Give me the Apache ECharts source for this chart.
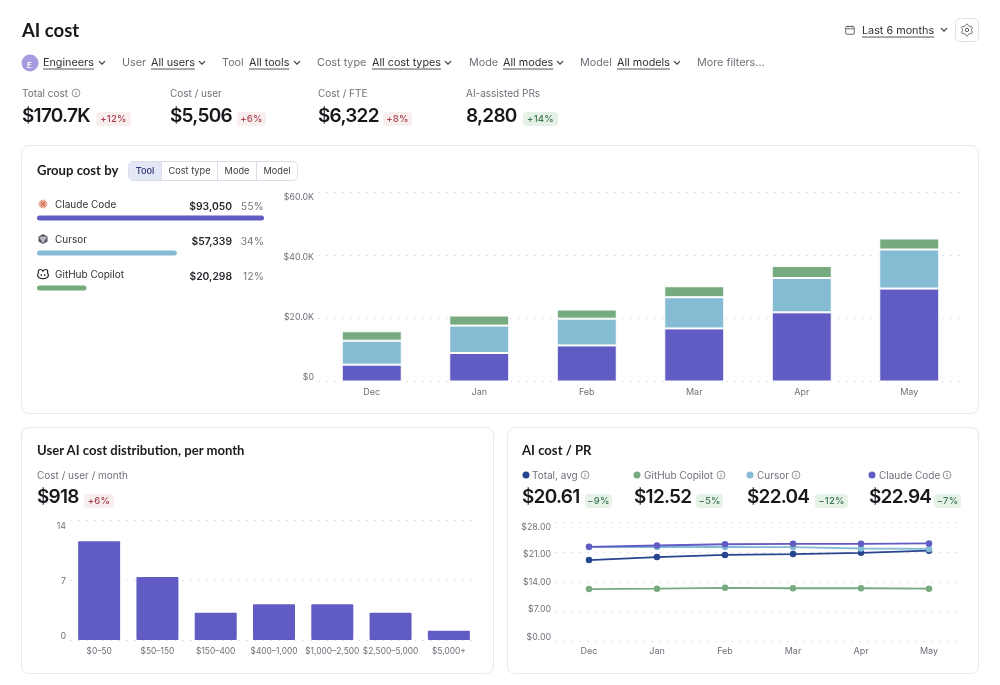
<!DOCTYPE html>
<html><head><meta charset="utf-8">
<script src="https://cdn.jsdelivr.net/npm/echarts@6/dist/echarts.min.js"></script>
<style>
html,body{margin:0;padding:0;background:#fff;width:1000px;height:685px;overflow:hidden;font-family:Inter,sans-serif;color:#1b1b20}
#chart{position:absolute;left:0;top:0;width:1000px;height:685px}
.card{position:absolute;border:1px solid #e9e9ee;border-radius:8px;box-sizing:border-box}
.t{position:absolute;white-space:nowrap;transform:translateY(-50%);line-height:1.2}
.r{transform:translate(-100%,-50%)}
.title{font-family:Lato,sans-serif;font-weight:700;font-size:18.5px;color:#17171c}
.f{font-size:10.8px;color:#6f7079}
.u{font-size:10.8px;color:#2f3036;text-decoration:underline;text-underline-offset:2.5px;text-decoration-color:#55565e}
.k{font-size:10px;color:#6f7079}
.v{font-size:19px;font-weight:600;color:#17171c;letter-spacing:-.75px}
.st{font-family:Lato,sans-serif;font-size:13.1px;font-weight:700;color:#1b1b20}
.b{position:absolute;height:14px;border-radius:4px;font-size:9.5px;font-weight:500;line-height:14px;text-align:center;letter-spacing:.2px;transform:translateY(-50%)}
.bad{background:#f8eeee;color:#a8404c}.good{background:#e6f1e8;color:#3f7a50}
.dot{position:absolute;width:8px;height:8px;border-radius:50%;transform:translate(-50%,-50%)}
svg.i{position:absolute;transform:translate(-50%,-50%);overflow:visible}
.seg{position:absolute;left:128px;top:161px;width:170px;height:20px;border:1px solid #dcdde8;border-radius:5px;box-sizing:border-box;display:flex;font-size:9.2px;color:#3a3b42;overflow:hidden}
.seg div{line-height:18px;text-align:center;border-right:1px solid #dcdde8;box-sizing:border-box}
.seg div:last-child{border:0}
.seg .on{background:#e4e7f6;color:#2c3577;font-weight:500}
</style></head><body>
<div class="card" style="left:21px;top:145px;width:958px;height:269px"></div>
<div class="card" style="left:21px;top:427px;width:473px;height:247px"></div>
<div class="card" style="left:507px;top:427px;width:472px;height:247px"></div>
<div id="chart"></div>
<div id="ov"></div>
<script>
// ---------- chart data ----------
const months = ['Dec','Jan','Feb','Mar','Apr','May'];
const claudeCost  = [5350, 9050, 11450, 16850, 21950, 29500];
const cursorCost  = [7600, 8700, 8500, 9900, 10900, 12400];
const copilotCost = [3000, 3200, 2900, 3500, 3800, 3500];
const costTicks = [0, 20000, 40000, 60000];

const toolNames  = ['Claude Code','Cursor','GitHub Copilot'];
const toolTotals = [93050, 57339, 20298];
const toolShares = ['55%','34%','12%'];

const buckets = ['$0–50','$50–150','$150–400','$400–1,000','$1,000–2,500','$2,500–5,000','$5,000+'];
const bucketUsers = [11.6, 7.4, 3.2, 4.2, 4.2, 3.2, 1.1];

const prTotal   = [19.1, 19.8, 20.3, 20.5, 20.8, 21.3];
const prCopilot = [12.3, 12.4, 12.6, 12.5, 12.5, 12.4];
const prCursor  = [22.15, 22.15, 22.15, 22.1, 21.8, 21.7];
const prClaude  = [22.2, 22.5, 22.8, 22.9, 22.9, 23.0];

const PURPLE='#615bc4', CYAN='#85bbd3', GREEN='#76ab80', NAVY='#27468f';
const toolColors=[PURPLE,CYAN,GREEN];
const GRID='#e3e4e8', LABEL='#6f7079', FONT='Inter';

// ---------- page chrome text ----------
const chev=(x,y)=>`<svg class="i" style="left:${x}px;top:${y}px" width="8" height="6" viewBox="0 0 8 6"><path d="M1 1.2 4 4.2 7 1.2" fill="none" stroke="#3a3b42" stroke-width="1.2"/></svg>`;
const info=(x,y)=>`<svg class="i" style="left:${x}px;top:${y}px" width="9" height="9" viewBox="0 0 9 9"><circle cx="4.5" cy="4.5" r="3.9" fill="none" stroke="#73747c" stroke-width=".8"/><path d="M4.5 4v2.4M4.5 2.5v.7" stroke="#73747c" stroke-width=".9"/></svg>`;
const T=(x,y,cls,s)=>`<div class="t ${cls}" style="left:${x}px;top:${y}px">${s}</div>`;
const B=(x1,x2,y,cls,s)=>`<div class="b ${cls}" style="left:${x1}px;width:${x2-x1}px;top:${y}px">${s}</div>`;
let gearPts=[];
for(let a=0;a<72;a++){const th=a*Math.PI/36,r=5.1+0.75*Math.cos(6*th);gearPts.push((6.5+r*Math.sin(th)).toFixed(2)+','+(6.5-r*Math.cos(th)).toFixed(2));}
let h='';
h+=T(22,30,'title','AI cost');
h+=`<div class="dot" style="left:29.5px;top:62.5px;width:17px;height:17px;background:#a79be0"></div>`;
h+=T(27,63,'','<span style="font-size:8px;color:#fff;font-weight:600">E</span>');
const FY=63;
h+=T(43,FY,'u','Engineers')+chev(102,62.5);
h+=T(122,FY,'f','User')+T(151,FY,'u','All users')+chev(202,62.5);
h+=T(222,FY,'f','Tool')+T(249,FY,'u','All tools')+chev(297,62.5);
h+=T(317,FY,'f','Cost type')+T(372,FY,'u','All cost types')+chev(448,62.5);
h+=T(469,FY,'f','Mode')+T(503,FY,'u','All modes')+chev(560,62.5);
h+=T(580,FY,'f','Model')+T(617,FY,'u','All models')+chev(677,62.5);
h+=T(697,FY,'f','More filters...');
h+=`<svg class="i" style="left:850px;top:30px" width="10" height="10" viewBox="0 0 10 10"><rect x=".7" y="1.500" width="8.600" height="7.800" rx="1.200" fill="none" stroke="#5b5c64" stroke-width=".9"/><path d="M.7 3.800h8.600M3 .4v2M7 .4v2" stroke="#5b5c64" stroke-width=".9"/></svg>`;
h+=T(862,30.5,'u','Last 6 months')+chev(944,30);
h+=`<div style="position:absolute;left:955px;top:18px;width:24px;height:24px;border:1px solid #dfe0ea;border-radius:5px;box-sizing:border-box"></div>`;
h+=`<svg class="i" style="left:967px;top:30px" width="13" height="13" viewBox="0 0 13 13"><circle cx="6.5" cy="6.5" r="1.7" fill="none" stroke="#4a4b53" stroke-width=".9"/><polygon points="${gearPts.join(' ')}" fill="none" stroke="#4a4b53" stroke-width=".9"/></svg>`;
const KY=92.6;
h+=T(22,KY,'k','Total cost')+info(76,93)+T(170,KY,'k','Cost / user')+T(318,KY,'k','Cost / FTE')+T(466,KY,'k','AI-assisted PRs');
h+=T(22,115.5,'v','$170.7K')+T(170,115.5,'v','$5,506')+T(318,115.5,'v','$6,322')+T(466,115.5,'v','8,280');
h+=B(96,131,118.5,'bad','+12%')+B(237,266,118.5,'bad','+6%')+B(383,412,118.5,'bad','+8%')+B(523,558,118.5,'good','+14%');
h+=T(37,171,'st','Group cost by');
h+=`<div class="seg"><div class="on" style="width:33px">Tool</div><div style="width:56px">Cost type</div><div style="width:39px">Mode</div><div style="width:40px">Model</div></div>`;
const rowY=[202.6,237.6,272.6];
toolNames.forEach((n,i)=>{
  h+=T(55,rowY[i],'','<span style="font-size:10px;color:#2f3036">'+n+'</span>');
  h+=T(232,rowY[i]+2.6,'r','<span style="font-size:10.3px;font-weight:600;color:#26272c">$'+toolTotals[i].toLocaleString('en-US')+'</span>');
  h+=T(264,rowY[i]+2.6,'r','<span style="font-size:10px;letter-spacing:.3px;color:#73747c">'+toolShares[i]+'</span>');
});
h+=`<svg class="i" style="left:42.5px;top:204px" width="10" height="10" viewBox="0 0 10 10"><path d="M5 .5v9M.5 5h9M1.800 1.800l6.400 6.400M8.200 1.800 1.800 8.200M.9 3.200l8.200 3.600M.9 6.800l8.200-3.600M3.200.9l3.600 8.200M6.800.9 3.200 9.100" stroke="#d9785a" stroke-width=".9"/></svg>`;
h+=`<svg class="i" style="left:42.5px;top:239px" width="11" height="11" viewBox="0 0 11 11"><path d="M5.500.5 10 3v5l-4.500 2.500L1 8V3z" fill="#55565e"/><path d="M1.500 3.200 5.500 3l4 .2-4 6.800z" fill="#b9bac0"/></svg>`;
h+=`<svg class="i" style="left:42.5px;top:274px" width="12" height="11" viewBox="0 0 12 11"><path d="M3.300 1C1.500 1 1 2.500 1.500 4.200 1 5 .6 5.700.6 7c0 1.600 2.400 3.200 5.400 3.200s5.400-1.600 5.400-3.200c0-1.300-.4-2-.9-2.800C11 2.500 10.500 1 8.700 1 7.500 1 6.500 1.700 6 2.600 5.500 1.700 4.500 1 3.300 1z" fill="none" stroke="#26272c" stroke-width="1.200"/><path d="M4.300 5.800v1.600M7.700 5.800v1.600" stroke="#26272c" stroke-width="1.200"/></svg>`;
h+=T(37,450.5,'st','User AI cost distribution, per month');
h+=T(37,474.6,'k','Cost / user / month')+T(37,497,'v','$918')+B(84,114,500.5,'bad','+6%');
h+=T(522,450.5,'st','AI cost / PR');
const legend=[[525.5,532,'Total, avg',NAVY,585,522,'$20.61',585,612,'−9%'],[636.5,644,'GitHub Copilot',GREEN,721,634,'$12.52',696,723,'−5%'],[750,757,'Cursor',CYAN,796,747,'$22.04',815,848,'−12%'],[872,879,'Claude Code',PURPLE,947,869,'$22.94',934,961,'−7%']];
legend.forEach(l=>{
  h+=`<div class="dot" style="left:${l[0]}px;top:475px;width:7px;height:7px;background:${l[3]}"></div>`;
  h+=T(l[1],474.6,'k',l[2])+info(l[4],475)+T(l[5],497,'v',l[6])+B(l[7],l[8],501,'good',l[9]);
});
document.getElementById('ov').innerHTML=h;

// ---------- charts ----------
const gridLine={show:true,lineStyle:{color:GRID,type:[2,6],width:1}};
const xLab={color:LABEL,fontSize:9,fontFamily:FONT,margin:6,interval:0};
const yLab=(fmt)=>({show:true,color:LABEL,fontSize:8.8,fontFamily:FONT,margin:4,formatter:fmt});
const kFmt=v=>v===0?'$0':'$'+(v/1000).toFixed(1)+'K';
const hideX=(g)=>({type:'category',gridIndex:g,show:false,data:[]});
// Labels sit on slightly tighter spacing than the gridlines in the reference, so each
// chart has a companion label-only value axis.
const labelAxis=(g,max,interval,fmt,mg)=>({type:'value',gridIndex:g,min:0,max,interval,axisLine:{show:false},axisTick:{show:false},splitLine:{show:false},axisLabel:Object.assign(yLab(fmt),{margin:mg})});
const plainY=(g,max,interval)=>({type:'value',gridIndex:g,min:0,max,interval,axisLine:{show:false},axisTick:{show:false},axisLabel:{show:false},splitLine:gridLine});
const catX=(g,data,lab)=>({type:'category',gridIndex:g,data,axisLine:{show:false},axisTick:{show:false},axisLabel:lab});
const stackBar=(name,data,color)=>({name,type:'bar',stack:'c',xAxisIndex:0,yAxisIndex:0,data,barWidth:60,itemStyle:{color,borderColor:'#fff',borderWidth:1}});
const line=(name,data,color)=>({name,type:'line',xAxisIndex:3,yAxisIndex:3,data,symbol:'circle',symbolSize:6.5,showSymbol:true,lineStyle:{color,width:1.8},itemStyle:{color}});

const option={
  animation:false,
  grid:[
    {left:318,right:37,top:192.5,height:189},  // 0 monthly stacked
    {left:37,width:227,top:200.5,height:105},  // 1 tool share bars
    {left:70,width:408,top:520.7,height:119.3},// 2 distribution
    {left:555,width:408,top:522,height:119.7}, // 3 cost per PR
    {left:318,width:100,top:197,height:180},   // 4 labels for 0
    {left:70,width:100,top:526,height:110},    // 5 labels for 2
    {left:555,width:100,top:527,height:110}    // 6 labels for 3
  ],
  xAxis:[
    catX(0,months,xLab),
    {type:'value',gridIndex:1,min:0,max:toolTotals[0],show:false},
    catX(2,buckets,Object.assign({},xLab,{margin:7,fontSize:8.4})),
    catX(3,months,Object.assign({},xLab,{margin:5})),
    hideX(4),hideX(5),hideX(6)
  ],
  yAxis:[
    plainY(0,costTicks[3],costTicks[1]),
    {type:'category',gridIndex:1,inverse:true,data:toolNames,show:false},
    plainY(2,14,7),
    plainY(3,28,7),
    labelAxis(4,costTicks[3],costTicks[1],kFmt,4),
    labelAxis(5,14,7,v=>String(v),4),
    labelAxis(6,28,7,v=>'$'+v.toFixed(2),4)
  ],
  series:[
    stackBar('Claude Code',claudeCost,PURPLE),
    stackBar('Cursor',cursorCost,CYAN),
    stackBar('GitHub Copilot',copilotCost,GREEN),
    {type:'bar',xAxisIndex:1,yAxisIndex:1,barWidth:5,data:toolTotals.map((v,i)=>({value:v,itemStyle:{color:toolColors[i],borderRadius:2.5}}))},
    {type:'bar',xAxisIndex:2,yAxisIndex:2,barWidth:42,data:bucketUsers,itemStyle:{color:PURPLE,borderRadius:1}},
    line('Total, avg',prTotal,NAVY),
    line('GitHub Copilot',prCopilot,GREEN),
    line('Cursor',prCursor,CYAN),
    line('Claude Code',prClaude,PURPLE)
  ]
};
echarts.init(document.getElementById('chart'),null,{renderer:'canvas'}).setOption(option);
</script></body></html>
